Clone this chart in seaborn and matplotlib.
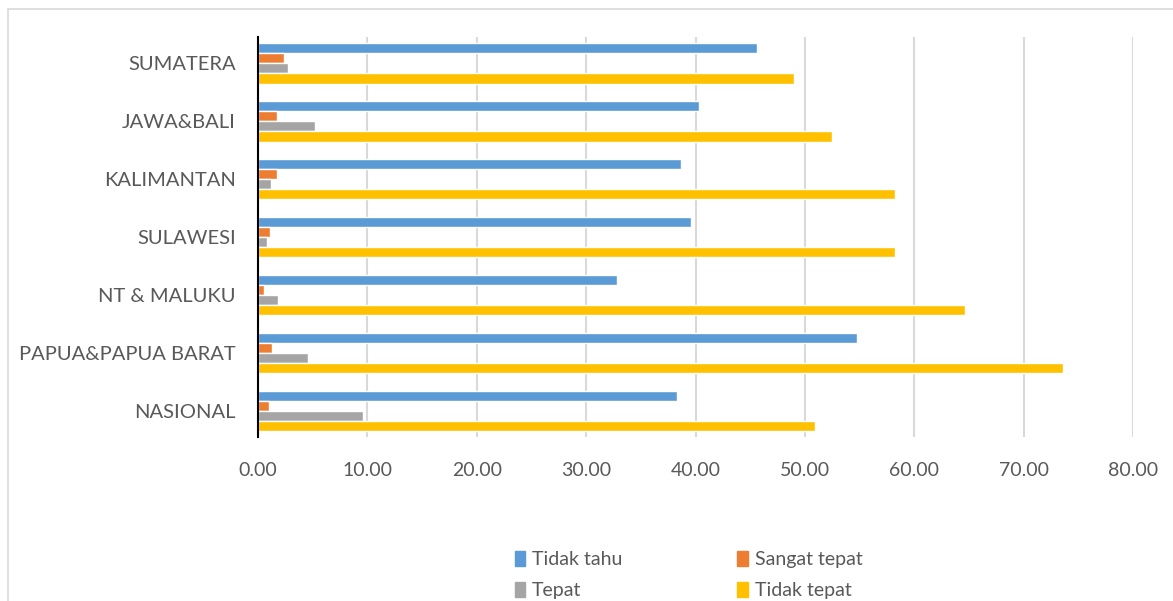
import pandas as pd
import seaborn as sns
import matplotlib.pyplot as plt
from matplotlib.patches import Rectangle

sns.set_theme(style="white")
plt.rcParams['font.family'] = ['Lato', 'DejaVu Sans']

# === Data ===
regions = ["SUMATERA", "JAWA&BALI", "KALIMANTAN", "SULAWESI",
           "NT & MALUKU", "PAPUA&PAPUA BARAT", "NASIONAL"]
tidak_tahu = [45.6, 40.3, 38.7, 39.6, 32.8, 54.8, 38.3]
sangat_tepat = [2.4, 1.7, 1.7, 1.1, 0.5, 1.3, 1.0]
tepat = [2.7, 5.2, 1.2, 0.85, 1.8, 4.6, 9.6]
tidak_tepat = [49.0, 52.5, 58.2, 58.2, 64.6, 73.6, 50.9]

series = ["Tidak tahu", "Sangat tepat", "Tepat", "Tidak tepat"]
colors = ["#5B9BD5", "#ED7D31", "#A5A5A5", "#FFC000"]

df = pd.DataFrame({"Wilayah": regions, "Tidak tahu": tidak_tahu,
                   "Sangat tepat": sangat_tepat, "Tepat": tepat,
                   "Tidak tepat": tidak_tepat})
tidy = df.melt(id_vars="Wilayah", var_name="Jawaban", value_name="Persen")

# === Plot ===
fig = plt.figure(figsize=(11.73, 6.01), dpi=100)
ax = fig.add_axes([0.22, 0.273, 0.746, 0.665])

sns.barplot(data=tidy, x="Persen", y="Wilayah", hue="Jawaban",
            order=regions, hue_order=series, palette=colors,
            orient="h", width=0.7, gap=0, errorbar=None,
            saturation=1, ax=ax)

ax.set_xlim(0, 80)
ax.set_ylim(6.45, -0.45)
ax.set_xticks(range(0, 81, 10))
ax.set_xticklabels([f"{v:.2f}" for v in range(0, 81, 10)])
ax.xaxis.grid(True, color="#D9D9D9", linewidth=1.5)
ax.set_axisbelow(True)
ax.set_xlabel("")
ax.set_ylabel("")
for s in ["top", "right", "bottom"]:
    ax.spines[s].set_visible(False)
ax.spines["left"].set_color("black")
ax.spines["left"].set_linewidth(1.5)
ax.tick_params(axis="x", length=0, pad=18, labelsize=14, labelcolor="#595959")
ax.tick_params(axis="y", length=0, pad=16, labelsize=14.5, labelcolor="#595959")

# legend filled row by row like the original (2 columns)
ax.legend_.remove()
leg_order = [0, 2, 1, 3]
handles = [Rectangle((0, 0), 1, 1, color=colors[i]) for i in leg_order]
labels = [series[i] for i in leg_order]
fig.legend(handles, labels, loc="center", bbox_to_anchor=(0.587, 0.043), ncol=2,
           frameon=False, fontsize=14, handlelength=0.55, handleheight=0.85,
           handletextpad=0.35, columnspacing=5.9, labelspacing=0.7,
           labelcolor="#595959")

# chart border
fig.patches.append(Rectangle((0.007, -0.01), 1.0, 0.995, transform=fig.transFigure,
                             fill=False, edgecolor="#D9D9D9", linewidth=1.2))

plt.savefig("out.png", dpi=100)
plt.close()
